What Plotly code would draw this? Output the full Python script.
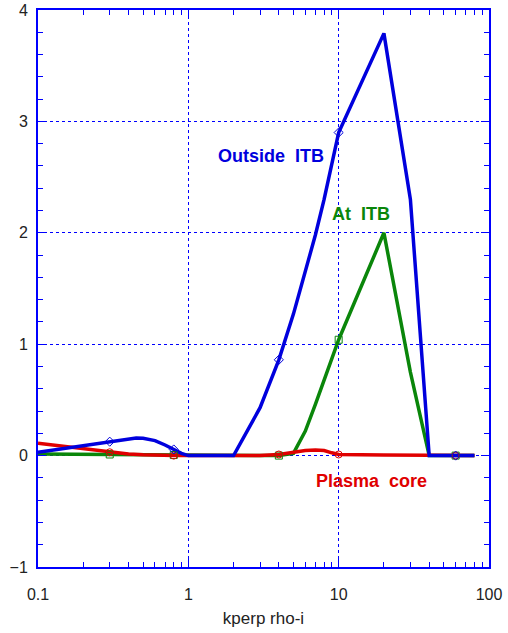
import plotly.graph_objects as go

# Outside ITB (blue)
x_out = [0.1, 0.15, 0.2, 0.3, 0.4, 0.45, 0.5, 0.6, 0.7, 0.8, 0.9, 1, 2, 3, 4, 5, 6, 7, 8, 9, 10, 20, 30, 40, 50, 60, 80]
y_out = [0.03, 0.065, 0.09, 0.125, 0.15, 0.157, 0.155, 0.135, 0.095, 0.055, 0.02, 0, 0, 0.43, 0.86, 1.27, 1.65, 1.98, 2.3, 2.6, 2.9, 3.79, 2.3, 0, 0, 0, 0]

# At ITB (green)
x_at = [0.1, 0.3, 0.8, 1, 2, 4, 5, 6, 7, 8, 9, 10, 20, 30, 40, 60, 80]
y_at = [0.015, 0.01, 0.005, 0, 0, 0, 0.02, 0.22, 0.46, 0.68, 0.87, 1.04, 2.0, 0.75, 0, 0, 0]

# Plasma core (red)
x_core = [0.1, 0.2, 0.3, 0.4, 0.5, 0.6, 0.8, 1, 2, 3, 4, 5, 6, 7, 8, 9, 10, 20, 40, 60, 80]
y_core = [0.11, 0.06, 0.03, 0.015, 0.008, 0.003, 0, 0, 0, 0, 0.01, 0.03, 0.045, 0.05, 0.045, 0.025, 0.01, 0.005, 0, 0, 0]

marker_x = [0.3, 0.8, 4, 10, 60]

x_ticks = [0.1, 1, 10, 100]
x_ticklabels = ["0.1", "1", "10", "100"]
y_ticks = [-1, 0, 1, 2, 3, 4]

BLUE = "#0000dd"
GREEN = "#0a860a"
RED = "#e00000"
AXIS = "#0000ff"
FONT = "Liberation Sans, Arial"


def pick(xs, ys):
    px, py = [], []
    for x, y in zip(xs, ys):
        if x in marker_x:
            px.append(x)
            py.append(y)
    return px, py


fig = go.Figure()
series = [
    ("At ITB", x_at, y_at, GREEN, "square-open"),
    ("Plasma core", x_core, y_core, RED, "circle-open"),
    ("Outside ITB", x_out, y_out, BLUE, "diamond-open"),
]
for name, xs, ys, col, sym in series:
    fig.add_trace(go.Scatter(x=xs, y=ys, mode="lines", name=name,
                             line=dict(color=col, width=3.5), showlegend=False))
for name, xs, ys, col, sym in series:
    px, py = pick(xs, ys)
    fig.add_trace(go.Scatter(x=px, y=py, mode="markers", name=name,
                             marker=dict(symbol=sym, size=7, color=col, line=dict(width=1, color=col)),
                             showlegend=False))

# annotation x values are log10 positions on the log axis
fig.add_annotation(x=0.55, y=2.69, text="<b>Outside  ITB</b>", showarrow=False,
                   font=dict(family=FONT, size=18, color=BLUE), xanchor="center", yanchor="middle")
fig.add_annotation(x=1.147, y=2.17, text="<b>At  ITB</b>", showarrow=False,
                   font=dict(family=FONT, size=18, color=GREEN), xanchor="center", yanchor="middle")
fig.add_annotation(x=1.219, y=-0.23, text="<b>Plasma  core</b>", showarrow=False,
                   font=dict(family=FONT, size=18, color=RED), xanchor="center", yanchor="middle")

fig.update_xaxes(type="log", range=[-1, 2], tickvals=x_ticks, ticktext=x_ticklabels,
                 ticks="inside", ticklen=8, tickcolor=AXIS, tickwidth=1,
                 showline=True, linecolor=AXIS, linewidth=2, mirror="ticks",
                 showgrid=True, gridcolor=AXIS, griddash="dot", gridwidth=1,
                 minor=dict(ticks="inside", ticklen=5, tickcolor=AXIS, dtick="D1", showgrid=False),
                 tickfont=dict(family=FONT, size=16, color="#222"), ticklabelstandoff=12,
                 title=dict(text="kperp rho-i", font=dict(family=FONT, size=17, color="#222"), standoff=10),
                 zeroline=False, automargin=False)
fig.update_yaxes(range=[-1, 4], tickvals=y_ticks, ticks="inside", ticklen=8, tickcolor=AXIS,
                 showline=True, linecolor=AXIS, linewidth=2, mirror="ticks",
                 showgrid=True, gridcolor=AXIS, griddash="dot", gridwidth=1,
                 minor=dict(ticks="inside", ticklen=5, tickcolor=AXIS, dtick=0.2, showgrid=False),
                 tickfont=dict(family=FONT, size=16, color="#222"), ticklabelstandoff=5,
                 zeroline=False, automargin=False)

fig.update_layout(width=508, height=633, margin=dict(l=38, r=19, t=10, b=66),
                  plot_bgcolor="white", paper_bgcolor="white", showlegend=False)

fig.write_html("out.html", config={"displayModeBar": False},
               post_script="document.body.style.margin='0';document.body.style.overflow='hidden';")
